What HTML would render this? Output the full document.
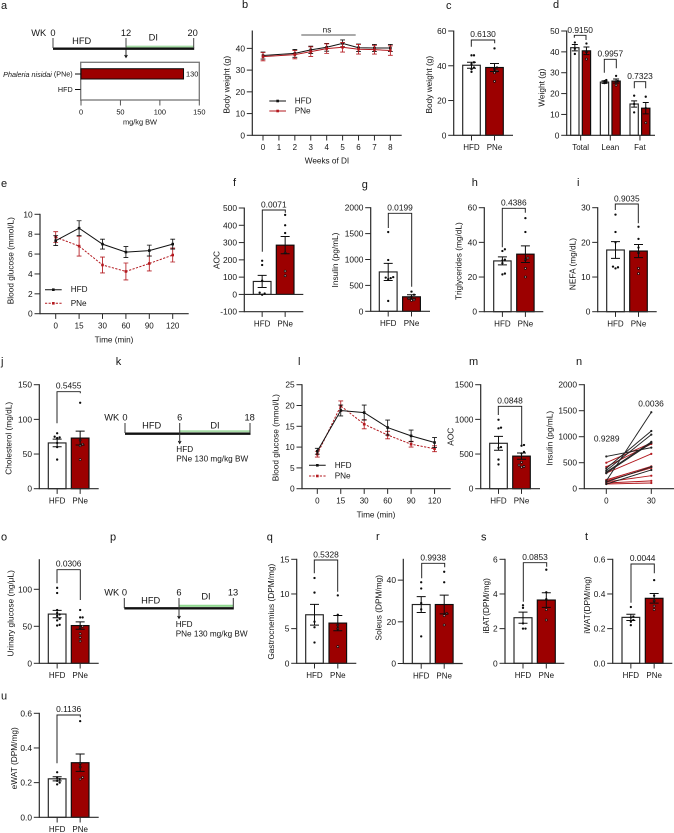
<!DOCTYPE html>
<html lang="en">
<head>
<meta charset="utf-8">
<title>Phaleria nisidai metabolic figure</title>
<style>
html,body{margin:0;padding:0;background:#fff}
svg{display:block;font-family:"Liberation Sans",sans-serif;filter:blur(0.35px)}
text{fill:#151515}
</style>
</head>
<body>
<svg id="figure" xmlns="http://www.w3.org/2000/svg" width="674" height="833" viewBox="0 0 674 833">
<rect width="674" height="833" fill="#fff"/>
<g font-size="11" dominant-baseline="central">
<text x="1" y="6" dominant-baseline="central">a</text>
<text x="242" y="5" dominant-baseline="central">b</text>
<text x="446" y="6" dominant-baseline="central">c</text>
<text x="553" y="5" dominant-baseline="central">d</text>
<text x="1" y="184" dominant-baseline="central">e</text>
<text x="233" y="183" dominant-baseline="central">f</text>
<text x="361.7" y="185" dominant-baseline="central">g</text>
<text x="471.7" y="183" dominant-baseline="central">h</text>
<text x="577" y="183" dominant-baseline="central">i</text>
<text x="1" y="362" dominant-baseline="central">j</text>
<text x="115.7" y="362" dominant-baseline="central">k</text>
<text x="298" y="362" dominant-baseline="central">l</text>
<text x="469" y="362" dominant-baseline="central">m</text>
<text x="576" y="362" dominant-baseline="central">n</text>
<text x="1" y="537.7" dominant-baseline="central">o</text>
<text x="110" y="537.7" dominant-baseline="central">p</text>
<text x="266.7" y="537.7" dominant-baseline="central">q</text>
<text x="376" y="537" dominant-baseline="central">r</text>
<text x="481" y="537.7" dominant-baseline="central">s</text>
<text x="585" y="537" dominant-baseline="central">t</text>
<text x="1" y="696.7" dominant-baseline="central">u</text>
</g>

<g stroke="#111" fill="none">
<line x1="126" y1="46.6" x2="193.7" y2="46.6" stroke="#a6dca6" stroke-width="2"/>
<line x1="53" y1="48.7" x2="194.2" y2="48.7" stroke-width="2.4"/>
<path d="M53 38V48M126 38V48M193.7 38V48" stroke="#444" stroke-width="1"/>
<path d="M126 48V56.5M124.6 55L126 57.5L127.4 55" stroke-width="0.9"/>
</g>
<g font-size="9.3" text-anchor="middle" dominant-baseline="central">
<text x="38.7" y="33" dominant-baseline="central">WK</text>
<text x="53" y="33" dominant-baseline="central">0</text>
<text x="126" y="33" dominant-baseline="central">12</text>
<text x="192.7" y="33" dominant-baseline="central">20</text>
<text x="81.7" y="41" dominant-baseline="central">HFD</text>
<text x="153.3" y="37.3" dominant-baseline="central">DI</text>
</g>

<g stroke="#111" fill="none">
<line x1="179.7" y1="431.3" x2="250" y2="431.3" stroke="#a6dca6" stroke-width="2"/>
<line x1="125" y1="433.7" x2="250.5" y2="433.7" stroke-width="2.4"/>
<path d="M125 423V433M179.7 423V443M250 423V433" stroke="#333" stroke-width="1"/>
<path d="M178.3 441L179.7 443.5L181.1 441" stroke-width="0.9"/>
</g>
<g font-size="9.3" text-anchor="middle" dominant-baseline="central">
<text x="111.7" y="417.5" dominant-baseline="central">WK</text>
<text x="125" y="417.5" dominant-baseline="central">0</text>
<text x="179.7" y="417.5" dominant-baseline="central">6</text>
<text x="249.7" y="417.5" dominant-baseline="central">18</text>
<text x="151.7" y="425.5" dominant-baseline="central">HFD</text>
<text x="215" y="425.5" dominant-baseline="central">DI</text>
</g>
<text x="176.3" y="449.5" font-size="8.2" dominant-baseline="central">HFD</text>
<text x="176.3" y="459" font-size="8.2" dominant-baseline="central">PNe 130 mg/kg BW</text>

<g stroke="#111" fill="none">
<line x1="179" y1="605.8" x2="233" y2="605.8" stroke="#90d890" stroke-width="2.2"/>
<line x1="124.3" y1="608.3" x2="233.8" y2="608.3" stroke-width="2.4"/>
<path d="M124.3 598V608M179 598V618M233.3 598V608" stroke="#333" stroke-width="1"/>
<path d="M177.6 616L179 618.5L180.4 616" stroke-width="0.9"/>
</g>
<g font-size="9.3" text-anchor="middle" dominant-baseline="central">
<text x="111.7" y="592.7" dominant-baseline="central">WK</text>
<text x="124.5" y="592.7" dominant-baseline="central">0</text>
<text x="179" y="592.7" dominant-baseline="central">6</text>
<text x="233" y="592.7" dominant-baseline="central">13</text>
<text x="150.7" y="600.5" dominant-baseline="central">HFD</text>
<text x="206" y="596.7" dominant-baseline="central">DI</text>
</g>
<text x="175.7" y="624.3" font-size="8.2" dominant-baseline="central">HFD</text>
<text x="175.7" y="634" font-size="8.2" dominant-baseline="central">PNe 130 mg/kg BW</text>

<text x="72.7" y="74" font-size="7.2" text-anchor="end" dominant-baseline="central"><tspan font-style="italic">Phaleria nisidai</tspan> (PNe)</text>
<text x="72.7" y="89.5" font-size="7.2" text-anchor="end" dominant-baseline="central">HFD</text>
</svg>
<script>
// ---------- chart data ----------
const groupLabels = ['HFD', 'PNe'];

const aDoses = [130, 0];
const aTicks = ['0', '50', '100', '150'];

const bWeeks = [0, 2, 3, 4, 5, 6, 7, 8];
const bWeekTicks = ['0', '1', '2', '3', '4', '5', '6', '7', '8'];
const bHfd = [36.7, 37.7, 39.3, 40.5, 42.3, 40.3, 40.2, 40.2];
const bHfdErr = [1.6, 1.8, 1.7, 1.8, 1.6, 1.7, 1.6, 1.6];
const bPne = [36.2, 37.1, 38.5, 39.9, 40.5, 39.6, 39.4, 39];
const bPneErr = [1.9, 1.9, 2.2, 2.2, 2.2, 2.2, 2.0, 2.2];
const bTicks = ['0', '10', '20', '30', '40'];

const cMeans = [40.3, 39];
const cErrs = [1.7, 2.3];
const cHfdDots = [46, 46, 42, 41, 39, 38, 36.5];
const cPneDots = [50, 39, 38, 37, 36, 31];
const cTicks = ['0', '20', '40', '60'];

const dGroups = ['Total', 'Lean', 'Fat'];
const dMeans = [42, 40.5, 25.5, 26, 15, 13];
const dErrs = [1.5, 1.8, 0.6, 1, 1.5, 2.7];
const dDots = [[44.5, 41.5, 39], [44, 40, 36.5], [26.5, 26, 25.5, 25], [28.5, 26, 25.5, 24], [19, 15, 11], [18.5, 13, 6]];
const dTicks = ['0', '10', '20', '30', '40', '50'];

const eTimes = ['0', '15', '30', '60', '90', '120'];
const eHfd = [7.35, 8.6, 7, 6.2, 6.35, 7];
const eHfdErr = [0.5, 0.75, 0.5, 0.55, 0.55, 0.5];
const ePne = [7.7, 6.8, 4.9, 4.25, 5.05, 5.9];
const ePneErr = [0.55, 1, 0.8, 0.85, 0.75, 0.7];
const eTicks = ['0', '2', '4', '6', '8', '10'];

const fMeans = [75, 285];
const fErrs = [35, 50];
const fHfdDots = [195, 170, 80, 10, 5, -2];
const fPneDots = [460, 400, 355, 240, 135, 108];
const fTicks = ['-100', '0', '100', '200', '300', '400', '500'];

const gMeans = [760, 280];
const gErrs = [165, 40];
const gHfdDots = [1530, 990, 660, 650, 640, 620, 200];
const gPneDots = [380, 320, 280, 250, 220, 210];
const gTicks = ['0', '500', '1000', '1500', '2000'];

const hMeans = [29.3, 33.2];
const hErrs = [2.3, 4.8];
const hHfdDots = [36, 35, 30, 29.5, 28, 22, 21.5];
const hPneDots = [54, 46, 31, 30, 25, 20];
const hTicks = ['0', '20', '40', '60'];

const iMeans = [17.8, 17.5];
const iErrs = [2.4, 1.9];
const iHfdDots = [28, 23, 20, 13, 12.8, 12.5];
const iPneDots = [24.5, 21, 18.5, 17, 12.5, 11];
const iTicks = ['0', '10', '20', '30'];

const jMeans = [66, 73];
const jErrs = [5.5, 10];
const jHfdDots = [80, 75, 74, 73, 66, 60, 42];
const jPneDots = [124, 70, 64, 62, 42];
const jTicks = ['0', '50', '100', '150'];

const lTimes = ['0', '15', '30', '60', '90', '120'];
const lHfd = [9, 18.8, 18.3, 14.7, 12.7, 11.1];
const lHfdErr = [0.7, 1.3, 1.8, 1.8, 1.4, 1.2];
const lPne = [8.3, 19.9, 15.5, 12.9, 10.7, 9.6];
const lPneErr = [0.7, 1.2, 1.1, 0.9, 0.7, 0.7];
const lTicks = ['0', '5', '10', '15', '20', '25'];

const mMeans = [655, 470];
const mErrs = [100, 45];
const mHfdDots = [995, 880, 870, 600, 590, 420, 350];
const mPneDots = [630, 620, 530, 510, 380, 340, 320, 310];
const mTicks = ['0', '500', '1000', '1500'];

const nTimes = ['0', '30'];
const nHfdStart = [620, 390, 350, 320, 300, 150, 130, 90];
const nHfdEnd = [790, 1110, 1040, 900, 880, 1470, 420, 360];
const nPneStart = [500, 420, 300, 170, 150, 130, 110, 90];
const nPneEnd = [880, 860, 670, 430, 400, 250, 150, 110];
const nTicks = ['0', '500', '1000', '1500', '2000'];

const oMeans = [66.5, 51];
const oErrs = [5, 5];
const oHfdDots = [102, 95, 72, 68, 66, 64, 60, 58, 52, 51];
const oPneDots = [72, 62, 62, 50, 48, 40, 35, 30];
const oTicks = ['0', '50', '100'];

const qMeans = [7, 5.8];
const qErrs = [1.5, 1.1];
const qHfdDots = [12.3, 10.2, 6, 5.2, 3];
const qPneDots = [9.8, 7, 5.5, 5, 2.4];
const qTicks = ['0', '5', '10', '15'];

const rMeans = [28.3, 28.3];
const rErrs = [3.8, 4.5];
const rHfdDots = [39, 36, 29, 26, 13];
const rPneDots = [44, 39, 24, 23, 18.5];
const rTicks = ['0', '20', '40'];

const sMeans = [2.63, 3.65];
const sErrs = [0.32, 0.42];
const sHfdDots = [3.35, 3.2, 2.3, 2, 2];
const sPneDots = [5.4, 4.1, 3.7, 3.1, 2.5];
const sTicks = ['0', '2', '4', '6'];

const tMeans = [0.265, 0.375];
const tErrs = [0.018, 0.028];
const tHfdDots = [0.325, 0.27, 0.265, 0.25, 0.24, 0.22];
const tPneDots = [0.48, 0.39, 0.36, 0.33, 0.31];
const tTicks = ['0.0', '0.2', '0.4', '0.6'];

const uMeans = [0.222, 0.315];
const uErrs = [0.012, 0.05];
const uHfdDots = [0.26, 0.23, 0.22, 0.21, 0.2, 0.19];
const uPneDots = [0.555, 0.31, 0.29, 0.23, 0.22];
const uTicks = ['0.0', '0.2', '0.4', '0.6'];

// ---------- drawing helpers ----------
const NS = 'http://www.w3.org/2000/svg';
const svg = document.getElementById('figure');
const RED = '#9c0000';
const LINE_RED = '#b3191f';
const AXIS = '#2a2a2a';
const INK = '#0c0c0c';

function el(parent, tag, attrs, name) {
  const node = document.createElementNS(NS, tag);
  for (const key in attrs) node.setAttribute(key, attrs[key]);
  
  
  parent.appendChild(node);
  return node;
}
function line(parent, x1, y1, x2, y2, stroke, width, name) {
  return el(parent, 'line', { x1, y1, x2, y2, stroke, 'stroke-width': width }, name);
}
function label(parent, x, y, str, size, anchor, name, rotate) {
  const attrs = { x, y, 'font-size': size, 'text-anchor': anchor, 'dominant-baseline': 'central' };
  if (rotate) attrs.transform = 'rotate(-90 ' + x + ' ' + y + ')';
  const node = el(parent, 'text', attrs, name);
  node.textContent = str;
  return node;
}
function yScale(f) {
  return v => f.pyMin + (v - f.vMin) * (f.pyMax - f.pyMin) / (f.vMax - f.vMin);
}
function yAxis(g, f, ticks, y) {
  line(g, f.ax, y(f.vMin) + 0.5, f.ax, y(f.vMax) - 0.5, AXIS, 1.2, 'y-axis');
  ticks.forEach(t => {
    const py = y(Number(t));
    line(g, f.ax - 5.5, py, f.ax, py, AXIS, 1, 'y-tick');
    label(g, f.ax - 7.3, py, t, 8.4, 'end', 'y-tick-label');
  });
  label(g, f.labelX, f.labelY, f.title, 8.3, 'middle', 'y-axis-title', true);
}
function xBaseline(g, f, y) {
  line(g, f.ax, y(f.vMin), f.xEnd, y(f.vMin), AXIS, 1.2, 'x-axis');
  if (f.vMin < 0) line(g, f.ax, y(0), f.xEnd, y(0), AXIS, 1.2, 'zero-line');
}
function xTick(g, f, y, px, str, size) {
  const base = y(f.vMin);
  line(g, px, base, px, base + 5.2, AXIS, 1, 'x-tick');
  label(g, px, base + 12.4, str, size || 8, 'middle', 'x-tick-label');
}
function swarm(values, y, gap, spread) {
  const placed = [];
  values.slice().sort((a, b) => a - b).forEach(v => {
    const py = y(v);
    const tries = [0, 1, -1, 2, -2, 3, -3];
    for (const t of tries) {
      const px = t * spread;
      if (!placed.some(p => Math.hypot(p.dx - px, p.py - py) < gap)) {
        placed.push({ dx: px, py });
        break;
      }
    }
  });
  return placed;
}
function errorBar(g, x, yTop, yBot, cap, stroke, width, name) {
  const d = 'M' + x + ' ' + yTop + 'V' + yBot + 'M' + (x - cap) + ' ' + yTop + 'H' + (x + cap) + 'M' + (x - cap) + ' ' + yBot + 'H' + (x + cap);
  return el(g, 'path', { d, stroke, 'stroke-width': width, fill: 'none' }, name);
}
function bracket(g, xl, xr, top, leftEnd, rightEnd, text, labelY) {
  const d = 'M' + xl + ' ' + leftEnd + 'V' + top + 'H' + xr + 'V' + rightEnd;
  el(g, 'path', { d, stroke: '#1c1c1c', 'stroke-width': 0.95, fill: 'none' }, 'significance-bracket');
  label(g, (xl + xr) / 2, labelY, text, 8.4, 'middle', 'p-value-label');
}
function barPanel(name, f, labels, means, errs, dots, ticks) {
  const g = el(svg, 'g', {}, name);
  const y = yScale(f);
  const pair = f.pair || 1;
  const leftOf = i => f.first + Math.floor(i / 2) * (f.groupStep || 0) + (i % 2) * f.step;
  const cap = f.cap || 4.5;
  means.forEach((m, i) => {
    const group = i % 2 ? 'pne' : 'hfd';
    const top = y(m);
    const base = y(Math.max(0, f.vMin));
    el(g, 'rect', { x: leftOf(i), y: top, width: f.bw, height: base - top, fill: i % 2 ? RED : '#fff', stroke: i % 2 ? INK : '#222', 'stroke-width': 1.15 }, 'bar-' + group);
  });
  yAxis(g, f, ticks, y);
  xBaseline(g, f, y);
  if (pair === 2) {
    labels.forEach((t, k) => xTick(g, f, y, leftOf(2 * k) + (f.step + f.bw) / 2, t, 8));
  } else {
    labels.forEach((t, k) => xTick(g, f, y, leftOf(k) + f.bw / 2, t, 8));
  }
  means.forEach((m, i) => {
    const cx = leftOf(i) + f.bw / 2;
    swarm(dots[i], y, f.dotGap || 2.3, f.dotSpread || 2.5).forEach(p => {
      const inside = i % 2 === 1 && p.py > y(m) + 0.5;
      el(g, 'circle', { cx: cx + p.dx, cy: p.py, r: inside ? 1 : 1.15, fill: inside ? '#e0b0b0' : INK, stroke: INK, 'stroke-width': inside ? 0.7 : 0 }, 'data-point');
    });
    errorBar(g, cx, y(m + errs[i]), y(m - errs[i]), cap, INK, 1, 'error-bar');
  });
  return g;
}
function seriesLine(g, xs, ys, errsPx, stroke, dash, name) {
  const d = xs.map((x, i) => (i ? 'L' : 'M') + x + ' ' + ys[i]).join('');
  xs.forEach((x, i) => errorBar(g, x, ys[i] - errsPx[i], ys[i] + errsPx[i], 2.4, stroke, 0.85, name + '-error-bar'));
  const attrs = { d, stroke, 'stroke-width': 1, fill: 'none' };
  if (dash) attrs['stroke-dasharray'] = dash;
  el(g, 'path', attrs, name + '-line');
  xs.forEach((x, i) => el(g, 'rect', { x: x - 1.3, y: ys[i] - 1.3, width: 2.6, height: 2.6, fill: stroke }, name + '-point'));
}
function legendEntry(g, x1, x2, yy, textX, stroke, dash, text, size) {
  const attrs = { x1, y1: yy, x2, y2: yy, stroke, 'stroke-width': 1 };
  if (dash) attrs['stroke-dasharray'] = dash;
  el(g, 'line', attrs, 'legend-line');
  el(g, 'rect', { x: (x1 + x2) / 2 - 1.3, y: yy - 1.3, width: 2.6, height: 2.6, fill: stroke }, 'legend-marker');
  label(g, textX, yy, text, size, 'start', 'legend-label');
}
function linePanel(name, f, xAt, times, hfd, hfdErr, pne, pneErr, ticks, dash) {
  const g = el(svg, 'g', {}, name);
  const y = yScale(f);
  const errPx = (vals, errs) => vals.map((v, i) => Math.abs(y(v + errs[i]) - y(v)));
  yAxis(g, f, ticks, y);
  xBaseline(g, f, y);
  times.forEach((t, i) => xTick(g, f, y, xAt(i), t, 8));
  const xs = hfd.map((_, i) => xAt(i));
  seriesLine(g, xs, pne.map(y), errPx(pne, pneErr), LINE_RED, dash, 'series-pne');
  seriesLine(g, xs, hfd.map(y), errPx(hfd, hfdErr), '#111', null, 'series-hfd');
  return g;
}

// ---------- panel a ----------
(function () {
  const g = el(svg, 'g', {}, 'panel-a-dose-chart');
  const x = v => 81 + v * 118.3 / 150;
  el(g, 'rect', { x: 80.7, y: 62.3, width: 118.6, height: 37.7, fill: 'none', stroke: '#777', 'stroke-width': 1.3 }, 'dose-plot-frame');
  el(g, 'rect', { x: x(0), y: 68.7, width: x(aDoses[0]) - x(0), height: 10.3, fill: RED, stroke: INK, 'stroke-width': 1 }, 'dose-bar-pne');
  label(g, x(aDoses[0]) + 2.5, 74, String(aDoses[0]), 7.4, 'start', 'dose-value-label');
  line(g, 75, 74, 80.7, 74, INK, 1, 'dose-tick-pne');
  line(g, 75, 89.5, 80.7, 89.5, INK, 1, 'dose-tick-hfd');
  aTicks.forEach(t => {
    const px = x(Number(t));
    line(g, px, 100, px, 105.5, '#555', 1, 'x-tick');
    label(g, px, 112, t, 7.4, 'middle', 'x-tick-label');
  });
  label(g, 140, 122, 'mg/kg BW', 7.4, 'middle', 'x-axis-title');
})();

// ---------- panel b ----------
(function () {
  const f = { ax: 252.3, xEnd: 401.7, pyMin: 135.3, pyMax: 31, vMin: 0, vMax: 48, title: 'Body weight (g)', labelX: 226.7, labelY: 84.7 };
  const g = el(svg, 'g', {}, 'panel-b-body-weight');
  const y = yScale(f);
  const x = w => 263 + w * 15.92;
  const errPx = (vals, errs) => vals.map((v, i) => Math.abs(y(v + errs[i]) - y(v)));
  yAxis(g, f, bTicks, y);
  xBaseline(g, f, y);
  bWeekTicks.forEach(t => xTick(g, f, y, x(Number(t)), t, 8));
  seriesLine(g, bWeeks.map(x), bHfd.map(y), errPx(bHfd, bHfdErr), '#111', null, 'series-hfd');
  seriesLine(g, bWeeks.map(x), bPne.map(y), errPx(bPne, bPneErr), LINE_RED, null, 'series-pne');
  label(g, 327, 161, 'Weeks of DI', 8.2, 'middle', 'x-axis-title');
  legendEntry(g, 269.3, 286, 101, 294.7, '#111', null, 'HFD', 8.2);
  legendEntry(g, 269.3, 286, 111, 294.7, LINE_RED, null, 'PNe', 8.2);
  line(g, 301.3, 35, 355.7, 35, '#777', 1.2, 'ns-bar');
  label(g, 327, 30, 'ns', 8.2, 'middle', 'ns-label');
})();

// ---------- bar panels ----------
const gc = barPanel('panel-c-body-weight', { ax: 453.7, xEnd: 513, pyMin: 135.3, pyMax: 31, vMin: 0, vMax: 60, first: 462.7, bw: 17.6, step: 23, title: 'Body weight (g)', labelX: 429, labelY: 84.7 }, groupLabels, cMeans, cErrs, [cHfdDots, cPneDots], cTicks);
bracket(gc, 471.3, 494.7, 40, 46.7, 43.3, '0.6130', 34);

const gd = barPanel('panel-d-body-composition', { ax: 566.7, xEnd: 655, pyMin: 135.3, pyMax: 31, vMin: 0, vMax: 50, first: 570.7, bw: 8.3, step: 11.6, groupStep: 29.65, pair: 2, cap: 3, dotGap: 1.9, dotSpread: 1.8, title: 'Weight (g)', labelX: 541.7, labelY: 87.7 }, dGroups, dMeans, dErrs, dDots, dTicks);
bracket(gd, 574.3, 586, 35.3, 37.7, 40, '0.9150', 30);
bracket(gd, 604.3, 616.3, 59.3, 72.7, 68.3, '0.9957', 53.3);
bracket(gd, 634.3, 645.7, 81.7, 88.3, 88.3, '0.7323', 76);

const ge = linePanel('panel-e-blood-glucose', { ax: 40, xEnd: 188.7, pyMin: 313.7, pyMax: 214.3, vMin: 0, vMax: 10, title: 'Blood glucose (mmol/L)', labelX: 10.3, labelY: 260.7 }, i => 55.7 + i * 23.4, eTimes, eHfd, eHfdErr, ePne, ePneErr, eTicks, '2.2 1.4');
label(ge, 114, 340, 'Time (min)', 8.2, 'middle', 'x-axis-title');
legendEntry(ge, 45, 61.7, 289.7, 70.7, '#111', null, 'HFD', 8.2);
legendEntry(ge, 45, 61.7, 303.3, 70.7, LINE_RED, '2.2 1.4', 'PNe', 8.2);

const gf = barPanel('panel-f-aoc', { ax: 244.3, xEnd: 303.3, pyMin: 311.7, pyMax: 208, vMin: -100, vMax: 500, first: 253.3, bw: 17.7, step: 23, title: 'AOC', labelX: 216.7, labelY: 260 }, groupLabels, fMeans, fErrs, [fHfdDots, fPneDots], fTicks);
bracket(gf, 262.3, 285.3, 210, 251.7, 212.7, '0.0071', 204.3);

const gg = barPanel('panel-g-insulin', { ax: 370.7, xEnd: 430, pyMin: 311.3, pyMax: 207.7, vMin: 0, vMax: 2000, first: 379.3, bw: 17.8, step: 23.3, title: 'Insulin (pg/mL)', labelX: 335, labelY: 260 }, groupLabels, gMeans, gErrs, [gHfdDots, gPneDots], gTicks);
bracket(gg, 388.3, 411.7, 213.3, 228, 286.7, '0.0199', 207.7);

const gh = barPanel('panel-h-triglycerides', { ax: 484.3, xEnd: 543.3, pyMin: 311.7, pyMax: 207.7, vMin: 0, vMax: 60, first: 493.7, bw: 17.4, step: 23, title: 'Triglycerides (mg/dL)', labelX: 458.3, labelY: 261 }, groupLabels, hMeans, hErrs, [hHfdDots, hPneDots], hTicks);
bracket(gh, 502.3, 525.3, 208.3, 247.3, 212.7, '0.4386', 202.3);

const gi = barPanel('panel-i-nefa', { ax: 597.7, xEnd: 656.7, pyMin: 311.7, pyMax: 207.7, vMin: 0, vMax: 30, first: 606.7, bw: 17.6, step: 23, title: 'NEFA (mg/dL)', labelX: 572.3, labelY: 264 }, groupLabels, iMeans, iErrs, [iHfdDots, iPneDots], iTicks);
bracket(gi, 615.3, 638.3, 204, 210, 223.3, '0.9035', 198.3);

const gj = barPanel('panel-j-cholesterol', { ax: 39.3, xEnd: 98.7, pyMin: 488.7, pyMax: 384.7, vMin: 0, vMax: 150, first: 48.3, bw: 17.7, step: 23, title: 'Cholesterol (mg/dL)', labelX: 8.3, labelY: 438.3 }, groupLabels, jMeans, jErrs, [jHfdDots, jPneDots], jTicks);
bracket(gj, 57, 80.3, 391.7, 423.3, 393.3, '0.5455', 385.7);

const gl = linePanel('panel-l-blood-glucose', { ax: 302, xEnd: 450.7, pyMin: 488.7, pyMax: 384.7, vMin: 0, vMax: 25, title: 'Blood glucose (mmol/L)', labelX: 275.7, labelY: 437.7 }, i => 317.3 + i * 23.45, lTimes, lHfd, lHfdErr, lPne, lPneErr, lTicks, '2.2 1.4');
label(gl, 376, 515, 'Time (min)', 8.2, 'middle', 'x-axis-title');
legendEntry(gl, 309, 325.7, 465.3, 334.7, '#111', null, 'HFD', 8.2);
legendEntry(gl, 309, 325.7, 476, 334.7, LINE_RED, '2.2 1.4', 'PNe', 8.2);

const gm = barPanel('panel-m-aoc', { ax: 480.7, xEnd: 540, pyMin: 488.7, pyMax: 384.7, vMin: 0, vMax: 1500, first: 489.7, bw: 17.6, step: 23, title: 'AOC', labelX: 450.7, labelY: 436.7 }, groupLabels, mMeans, mErrs, [mHfdDots, mPneDots], mTicks);
bracket(gm, 498.3, 521.7, 406.3, 415, 445, '0.0848', 400.3);

// ---------- panel n ----------
(function () {
  const f = { ax: 584.3, xEnd: 674, pyMin: 488.7, pyMax: 384.7, vMin: 0, vMax: 2000, title: 'Insulin (pg/mL)', labelX: 549.3, labelY: 438.3 };
  const g = el(svg, 'g', {}, 'panel-n-paired-insulin');
  const y = yScale(f);
  const x = i => 606.3 + i * 45;
  yAxis(g, f, nTicks, y);
  xBaseline(g, f, y);
  nTimes.forEach((t, i) => xTick(g, f, y, x(i), t, 8));
  const pairs = (starts, ends, colour, name) => starts.forEach((s, i) => {
    line(g, x(0), y(s), x(1), y(ends[i]), colour, 0.95, name + '-pair-line');
    el(g, 'circle', { cx: x(0), cy: y(s), r: 1.1, fill: colour }, name + '-point-start');
    el(g, 'circle', { cx: x(1), cy: y(ends[i]), r: 1.1, fill: colour }, name + '-point-end');
  });
  pairs(nPneStart, nPneEnd, LINE_RED, 'pne');
  pairs(nHfdStart, nHfdEnd, '#222', 'hfd');
  label(g, 606.7, 438.3, '0.9289', 8.4, 'middle', 'p-value-label');
  label(g, 651, 403.7, '0.0036', 8.4, 'middle', 'p-value-label');
})();

const go = barPanel('panel-o-urinary-glucose', { ax: 39.3, xEnd: 98.7, pyMin: 663.3, pyMax: 559.7, vMin: 0, vMax: 140, first: 48.3, bw: 17.7, step: 23, title: 'Urinary glucose (ng/\u03bcL)', labelX: 10.3, labelY: 613.3 }, groupLabels, oMeans, oErrs, [oHfdDots, oPneDots], oTicks);
bracket(go, 57, 80.3, 569.7, 583.3, 600, '0.0306', 563.7);

const gq = barPanel('panel-q-gastrocnemius', { ax: 296.7, xEnd: 356.3, pyMin: 663.3, pyMax: 559.3, vMin: 0, vMax: 15, first: 305.7, bw: 17.6, step: 23.3, title: 'Gastrocnemius (DPM/mg)', labelX: 271, labelY: 611.7 }, groupLabels, qMeans, qErrs, [qHfdDots, qPneDots], qTicks);
bracket(gq, 314.3, 337.7, 560, 573.3, 591.7, '0.5328', 554.7);

const gr = barPanel('panel-r-soleus', { ax: 403.3, xEnd: 462.7, pyMin: 663.5, pyMax: 559.3, vMin: 0, vMax: 50, first: 412.3, bw: 17.8, step: 23, title: 'Soleus (DPM/mg)', labelX: 378.7, labelY: 607.7 }, groupLabels, rMeans, rErrs, [rHfdDots, rPneDots], rTicks);
bracket(gr, 421.7, 444.7, 563.3, 578.3, 567.3, '0.9938', 557.7);

const gs = barPanel('panel-s-ibat', { ax: 505, xEnd: 564.3, pyMin: 663.3, pyMax: 559.3, vMin: 0, vMax: 6, first: 514, bw: 18, step: 23.3, title: 'iBAT(DPM/mg)', labelX: 486, labelY: 605.7 }, groupLabels, sMeans, sErrs, [sHfdDots, sPneDots], sTicks);
bracket(gs, 523.3, 546.7, 562.7, 601.7, 566.7, '0.0853', 557);

const gt = barPanel('panel-t-iwat', { ax: 612.7, xEnd: 672.3, pyMin: 663.3, pyMax: 559.3, vMin: 0, vMax: 0.6, first: 622, bw: 17.7, step: 23.3, title: 'iWAT(DPM/mg)', labelX: 587, labelY: 605 }, groupLabels, tMeans, tErrs, [tHfdDots, tPneDots], tTicks);
bracket(gt, 631, 654.3, 564, 602.7, 573.3, '0.0044', 558);

const gu = barPanel('panel-u-ewat', { ax: 39.3, xEnd: 98.7, pyMin: 817.3, pyMax: 713.3, vMin: 0, vMax: 0.6, first: 48.3, bw: 17.7, step: 23, title: 'eWAT (DPM/mg)', labelX: 14, labelY: 758.3 }, groupLabels, uMeans, uErrs, [uHfdDots, uPneDots], uTicks);
bracket(gu, 57, 80.3, 715, 763.3, 717.3, '0.1136', 709);
</script>
</body>
</html>
